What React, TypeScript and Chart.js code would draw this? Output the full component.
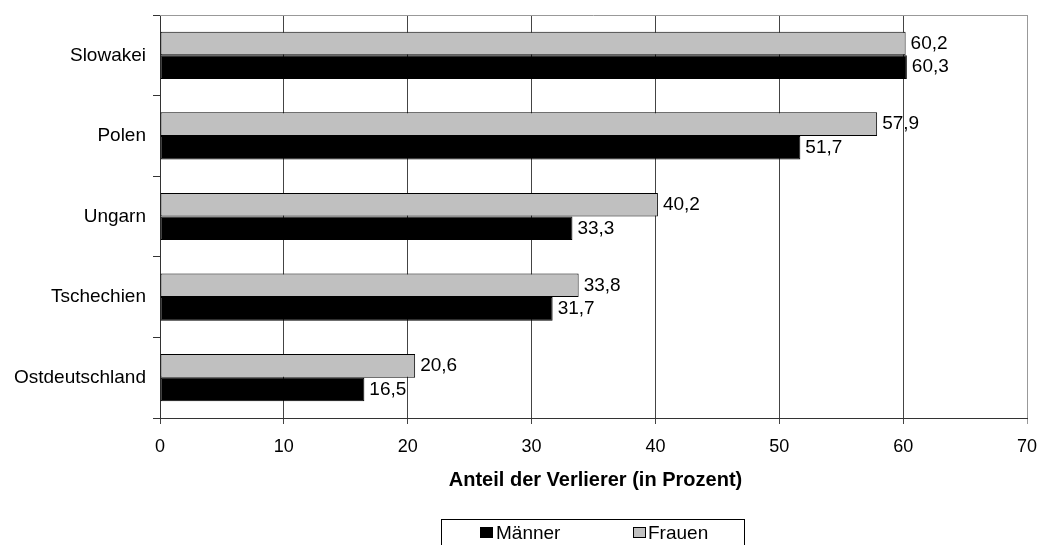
import React, { useEffect, useRef } from "react";
import { Chart, registerables } from "chart.js";

Chart.register(...registerables);

const categories = ["Slowakei", "Polen", "Ungarn", "Tschechien", "Ostdeutschland"];
const frauen = [60.2, 57.9, 40.2, 33.8, 20.6];
const maenner = [60.3, 51.7, 33.3, 31.7, 16.5];
const xTicks = [0, 10, 20, 30, 40, 50, 60, 70];
const xTitle = "Anteil der Verlierer (in Prozent)";
const legendLabels = ["Männer", "Frauen"];

const FONT = "'Liberation Sans', Arial, sans-serif";

const fmt = (v: number) => v.toFixed(1).replace(".", ",");

const overlayPlugin = {
  id: "overlay",
  afterDatasetsDraw(chart: any) {
    const ctx = chart.ctx;
    ctx.save();
    ctx.font = `19px ${FONT}`;
    ctx.fillStyle = "#000";
    ctx.textAlign = "left";
    ctx.textBaseline = "middle";
    chart.data.datasets.forEach((ds: any, di: number) => {
      const meta = chart.getDatasetMeta(di);
      meta.data.forEach((el: any, i: number) => {
        ctx.fillText(fmt(ds.data[i]), el.x + 5, el.y);
      });
    });
    // top border
    const a = chart.chartArea;
    ctx.strokeStyle = "#999";
    ctx.lineWidth = 1;
    ctx.beginPath();
    ctx.moveTo(a.left, a.top + 0.5);
    ctx.lineTo(a.right, a.top + 0.5);
    ctx.stroke();
    ctx.restore();
  },
  afterDraw(chart: any) {
    const ctx = chart.ctx;
    const a = chart.chartArea;
    ctx.save();
    // axis title
    ctx.font = `bold 20px ${FONT}`;
    ctx.fillStyle = "#000";
    ctx.textAlign = "center";
    ctx.textBaseline = "middle";
    ctx.fillText(xTitle, (a.left + a.right) / 2 + 2, 480);
    // legend box
    ctx.strokeStyle = "#000";
    ctx.lineWidth = 1;
    ctx.strokeRect(441.5, 519.5, 303, 40);
    ctx.font = `19px ${FONT}`;
    ctx.textAlign = "left";
    ctx.textBaseline = "alphabetic";
    // Männer
    ctx.fillStyle = "#000";
    ctx.fillRect(480, 527, 13, 11);
    ctx.strokeRect(480.5, 527.5, 12, 10);
    ctx.fillStyle = "#000";
    ctx.fillText(legendLabels[0], 496, 539);
    // Frauen
    ctx.fillStyle = "#c0c0c0";
    ctx.fillRect(633, 527, 13, 11);
    ctx.strokeRect(633.5, 527.5, 12, 10);
    ctx.fillStyle = "#000";
    ctx.fillText(legendLabels[1], 648, 539);
    ctx.restore();
  },
};

export default function App() {
  const ref = useRef<HTMLCanvasElement>(null);
  useEffect(() => {
    if (!ref.current) return;
    const chart = new Chart(ref.current, {
      type: "bar",
      data: {
        labels: categories,
        datasets: [
          {
            label: "Frauen",
            data: frauen,
            backgroundColor: "#c0c0c0",
            borderColor: "#000",
            borderWidth: 1,
            borderSkipped: false,
          },
          {
            label: "Männer",
            data: maenner,
            backgroundColor: "#000",
            borderColor: "#000",
            borderWidth: 1,
            borderSkipped: false,
          },
        ],
      },
      options: {
        indexAxis: "y",
        responsive: false,
        animation: false,
        devicePixelRatio: 1,
        layout: { padding: { top: 15, right: 11, left: 0, bottom: 0 } },
        datasets: {
          bar: { categoryPercentage: 0.585, barPercentage: 1 },
        },
        plugins: {
          legend: { display: false },
          tooltip: { enabled: false },
        },
        scales: {
          x: {
            type: "linear",
            min: 0,
            max: 70,
            afterBuildTicks: (s: any) => {
              s.ticks = xTicks.map((v) => ({ value: v }));
            },
            afterFit: (s: any) => {
              s.height = 127;
              s.paddingLeft = 0;
              s.paddingRight = 0;
            },
            ticks: {
              font: { size: 18, family: FONT },
              color: "#000",
              padding: 12,
              callback: (v: any) => String(v),
            },
            grid: {
              color: (c: any) => (c.tick && c.tick.value === 70 ? "#999" : "#444"),
              tickLength: 6,
              lineWidth: 1,
            },
            border: { color: "#333", width: 1 },
          },
          y: {
            afterFit: (s: any) => {
              s.width = 160;
              s.paddingTop = 0;
              s.paddingBottom = 0;
            },
            ticks: {
              font: { size: 19, family: FONT },
              color: "#000",
              padding: 7,
            },
            grid: {
              offset: true,
              drawOnChartArea: false,
              tickLength: 7,
              color: "#333",
            },
            border: { color: "#333", width: 1 },
          },
        },
      },
      plugins: [overlayPlugin],
    });
    return () => chart.destroy();
  }, []);
  return (
    <div style={{ position: "absolute", left: 0, top: 0, width: 1038, height: 545, background: "#fff" }}>
      <canvas ref={ref} width={1038} height={545} />
    </div>
  );
}
